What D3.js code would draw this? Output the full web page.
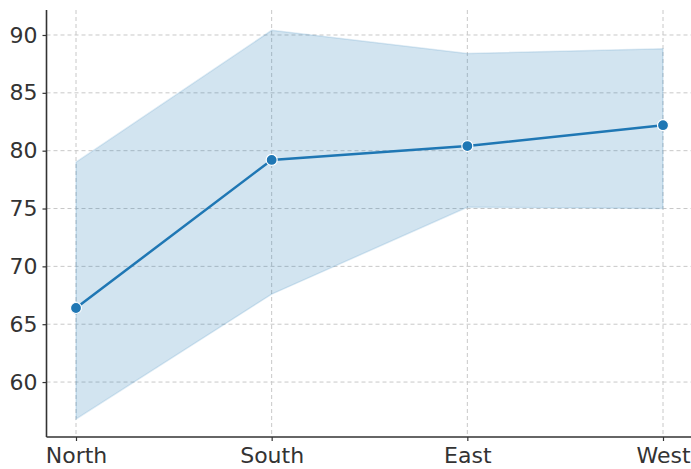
<!DOCTYPE html>
<html>
<head>
<meta charset="utf-8">
<script src="https://cdn.jsdelivr.net/npm/d3@7"></script>
<style>
  html, body { margin: 0; padding: 0; background: #fff; }
  svg { display: block; }
</style>
</head>
<body>
<svg id="chart" width="691" height="469"></svg>
<script>
// Regional scores: mean with lower/upper interval band
const regions = ["North", "South", "East", "West"];
const meanScore = [66.4, 79.2, 80.4, 82.2];
const lowerBound = [56.8, 67.6, 75.1, 75.0];
const upperBound = [79.0, 90.4, 88.4, 88.8];
const yTicks = [60, 65, 70, 75, 80, 85, 90];

const svg = d3.select("#chart");
const plot = { left: 46.5, right: 691, top: 10, bottom: 437 };

const x = d3.scalePoint().domain(regions).range([76, 663]);
const y = d3.scaleLinear().domain([55.25, 92.16]).range([plot.bottom, plot.top]);

const rows = regions.map((r, i) => ({ r, m: meanScore[i], lo: lowerBound[i], hi: upperBound[i] }));

// grid lines
const grid = svg.append("g");
grid.selectAll("line.h").data(yTicks).join("line")
  .attr("x1", plot.left).attr("x2", plot.right)
  .attr("y1", d => y(d)).attr("y2", d => y(d))
  .attr("stroke", "#c8c8c8").attr("stroke-width", 1).attr("stroke-dasharray", "4,3");
grid.selectAll("line.v").data(regions).join("line")
  .attr("x1", d => x(d)).attr("x2", d => x(d))
  .attr("y1", plot.top).attr("y2", plot.bottom)
  .attr("stroke", "#c8c8c8").attr("stroke-width", 1).attr("stroke-dasharray", "4,3");

// interval band
const area = d3.area().x(d => x(d.r)).y0(d => y(d.lo)).y1(d => y(d.hi));
svg.append("path").datum(rows)
  .attr("d", area)
  .attr("fill", "#1f77b4").attr("fill-opacity", 0.2)
  .attr("stroke", "#1f77b4").attr("stroke-opacity", 0.15).attr("stroke-width", 1.5);

// mean line
const line = d3.line().x(d => x(d.r)).y(d => y(d.m));
svg.append("path").datum(rows)
  .attr("d", line)
  .attr("fill", "none").attr("stroke", "#1f77b4").attr("stroke-width", 2.5);

svg.selectAll("circle.pt").data(rows).join("circle")
  .attr("cx", d => x(d.r)).attr("cy", d => y(d.m)).attr("r", 5.5)
  .attr("fill", "#1f77b4").attr("stroke", "#fff").attr("stroke-width", 1.2);

// axes
const yAxis = d3.axisLeft(y).tickValues(yTicks).tickSize(4).tickPadding(5);
const gy = svg.append("g").attr("transform", `translate(${plot.left},0)`).call(yAxis);
gy.select(".domain").attr("d", `M0,${plot.top}V${plot.bottom}`);

const xAxis = d3.axisBottom(x).tickSize(4).tickPadding(6);
const gx = svg.append("g").attr("transform", `translate(0,${plot.bottom})`).call(xAxis);
gx.select(".domain").attr("d", `M${plot.left},0H${plot.right}`);

[gx, gy].forEach(g => {
  g.select(".domain").attr("stroke", "#333").attr("stroke-width", 1.6);
  g.selectAll(".tick line").attr("stroke", "#333").attr("stroke-width", 1.2);
  g.selectAll(".tick text")
    .attr("fill", "#333")
    .style("font-family", "DejaVu Sans, sans-serif")
    .style("font-size", "22px");
});
</script>
</body>
</html>
